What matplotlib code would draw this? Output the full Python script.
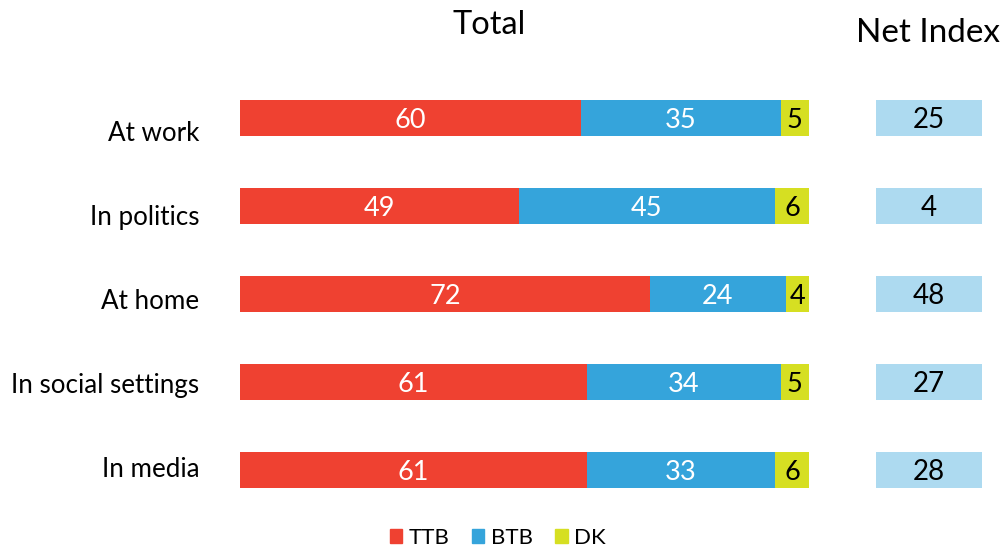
import matplotlib
matplotlib.use("Agg")
import matplotlib.pyplot as plt
from matplotlib.patches import Patch

plt.rcParams['font.family'] = ['Lato', 'DejaVu Sans']

categories = ["At work", "In politics", "At home", "In social settings", "In media"]
ttb = [60, 49, 72, 61, 61]
btb = [35, 45, 24, 34, 33]
dk = [5, 6, 4, 5, 6]
net_index = [25, 4, 48, 27, 28]
series_names = ["TTB", "BTB", "DK"]

c_ttb = "#EF4131"
c_btb = "#35A4DB"
c_dk = "#D6DF22"
c_net = "#ADDAF0"

W, H = 1006, 548
fig = plt.figure(figsize=(W / 100, H / 100), dpi=100)

def px_axes(x0, y0, x1, y1):
    return fig.add_axes([x0 / W, 1 - y1 / H, (x1 - x0) / W, (y1 - y0) / H])

ax = px_axes(240, 74, 809, 514)
n = len(categories)
ypos = list(range(n))
bh = 0.40
lefts = [0] * n
for vals, col, tc in [(ttb, c_ttb, "white"), (btb, c_btb, "white"), (dk, c_dk, "black")]:
    bars = ax.barh(ypos, vals, left=lefts, height=bh, color=col, edgecolor="none")
    for b, v in zip(bars, vals):
        ax.text(b.get_x() + b.get_width() / 2, b.get_y() + b.get_height() / 2, str(v),
                ha="center", va="center_baseline", color=tc, fontsize=19.5)
    lefts = [l + v for l, v in zip(lefts, vals)]
ax.set_xlim(0, 100)
ax.set_ylim(n - 0.5, -0.5)
ax.axis("off")

# category labels
lab = px_axes(0, 89, 240, 509)
for i, c in enumerate(categories):
    lab.text(0.83, i, c, ha="right", va="center_baseline", fontsize=18.7, color="black")
lab.set_xlim(0, 1)
lab.set_ylim(n - 0.5, -0.5)
lab.axis("off")

# net index
axn = px_axes(876, 74, 982, 514)
bars = axn.barh(ypos, [1] * n, left=0, height=bh, color=c_net, edgecolor="none")
for b, v in zip(bars, net_index):
    axn.text(0.5, b.get_y() + b.get_height() / 2, str(v), ha="center", va="center_baseline",
             fontsize=20, color="black")
axn.set_xlim(0, 1)
axn.set_ylim(n - 0.5, -0.5)
axn.axis("off")

fig.text(489 / W, 1 - 25 / H, "Total", ha="center", va="center", fontsize=23.5)
fig.text(928.5 / W, 1 - 33 / H, "Net Index", ha="center", va="center", fontsize=24)

handles = [Patch(color=c) for c in (c_ttb, c_btb, c_dk)]
fig.legend(handles, series_names, loc="center", bbox_to_anchor=(498 / W, 1 - 538 / H),
           ncol=3, frameon=False, fontsize=16, handlelength=0.55, handleheight=0.55,
           handletextpad=0.3, columnspacing=1.0, borderpad=0)

fig.savefig("out.png", dpi=100)
